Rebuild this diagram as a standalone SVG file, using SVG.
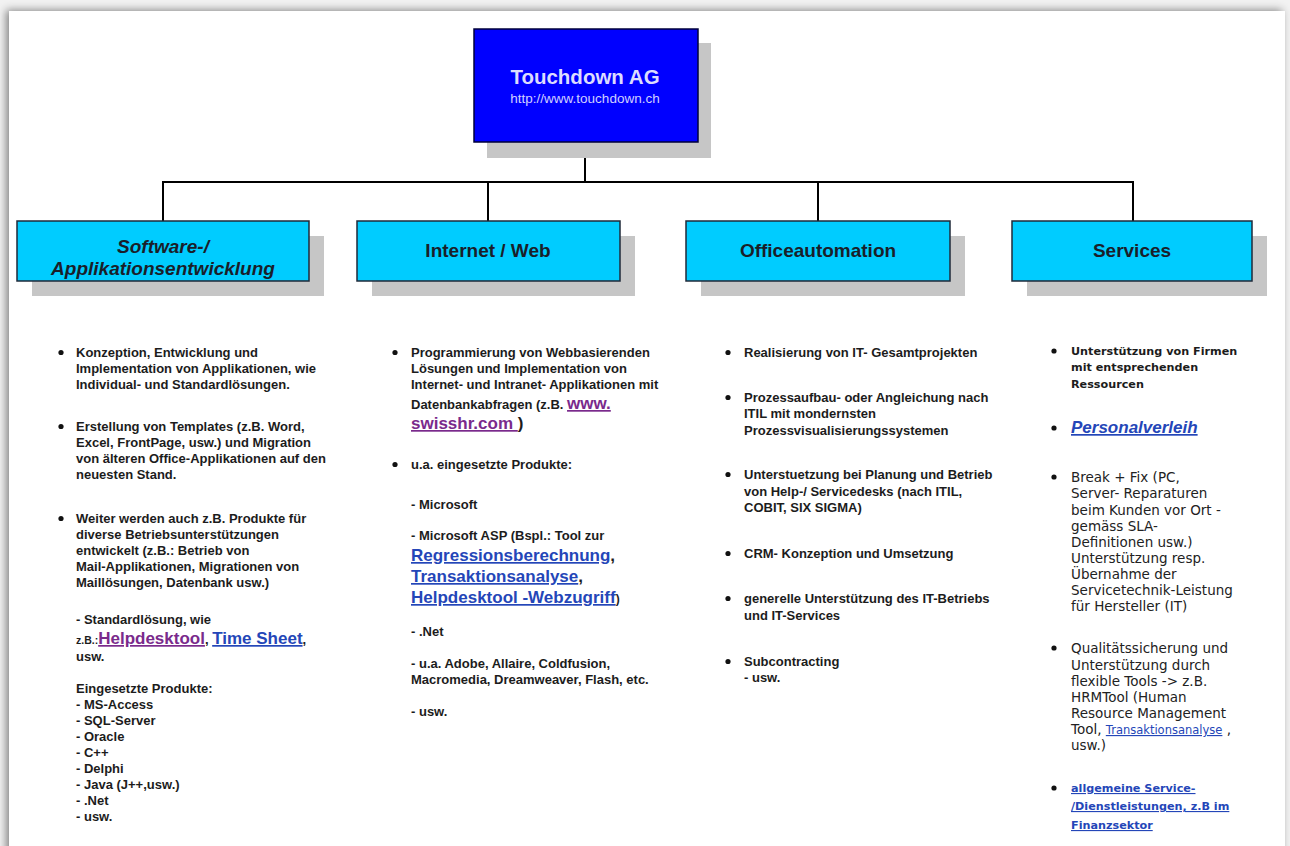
<svg xmlns="http://www.w3.org/2000/svg" width="1290" height="846" viewBox="0 0 1290 846">
<defs>
<filter id="pg" x="-5%" y="-5%" width="110%" height="110%">
<feDropShadow dx="-3" dy="-1" stdDeviation="4" flood-color="#000" flood-opacity="0.45"/>
</filter>
<style>
.b{font-family:"Liberation Sans",Arial,sans-serif;font-size:13px;font-weight:bold;fill:#1c1c1c}
.v{font-family:"DejaVu Sans",Verdana,sans-serif;font-size:13.5px;fill:#222}
.vb{font-family:"DejaVu Sans",Verdana,sans-serif;font-size:11.2px;font-weight:bold;fill:#1c1c1c}
.h{font-family:"Liberation Sans",Arial,sans-serif;font-size:19px;font-weight:bold;fill:#1a1e2a;text-anchor:middle}
.lk{font-family:"Liberation Sans",Arial,sans-serif;font-size:17px;font-weight:bold;text-decoration:underline}
.pu{fill:#7a2a8c}
.bl{fill:#2446b8}
.sh{fill:#c6c6c6}
.hb{fill:#00ccff;stroke:#1f2a3a;stroke-width:1.5}
.dot{fill:#111}
.con{stroke:#000;stroke-width:2;fill:none}
</style>
</defs>
<rect width="1290" height="846" fill="#f2f2f2"/>
<rect x="9" y="11" width="1276" height="850" fill="#fff" filter="url(#pg)"/>

<g id="connectors">
<line class="con" x1="585" y1="142" x2="585" y2="182"/>
<line class="con" x1="162" y1="182" x2="1134" y2="182"/>
<line class="con" x1="163" y1="182" x2="163" y2="221"/>
<line class="con" x1="488" y1="182" x2="488" y2="221"/>
<line class="con" x1="818" y1="182" x2="818" y2="221"/>
<line class="con" x1="1133" y1="182" x2="1133" y2="221"/>
</g>

<g id="touchdown">
<rect class="sh" x="487" y="43" width="224" height="115"/>
<rect x="474" y="29" width="224" height="113" fill="#0000ff" stroke="#00003a" stroke-width="1.5"/>
<text x="585" y="84" text-anchor="middle" font-family="Liberation Sans,Arial,sans-serif" font-size="20.5" font-weight="bold" fill="#dcdcff">Touchdown AG</text>
<text x="585" y="103" text-anchor="middle" font-family="Liberation Sans,Arial,sans-serif" font-size="13.5" fill="#d0d0ff">http://www.touchdown.ch</text>
</g>

<g id="software">
<rect class="sh" x="32" y="236" width="292" height="60"/>
<rect class="hb" x="17" y="221" width="292" height="60"/>
<text class="h" x="163" y="253" font-style="italic">Software-/</text>
<text class="h" x="163" y="275" font-style="italic">Applikationsentwicklung</text>
</g>
<g id="internet">
<rect class="sh" x="372" y="236" width="263" height="60"/>
<rect class="hb" x="357" y="221" width="263" height="60"/>
<text class="h" x="488" y="257">Internet / Web</text>
</g>
<g id="office">
<rect class="sh" x="701" y="236" width="264" height="60"/>
<rect class="hb" x="686" y="221" width="264" height="60"/>
<text class="h" x="818" y="257">Officeautomation</text>
</g>
<g id="services">
<rect class="sh" x="1027" y="236" width="240" height="60"/>
<rect class="hb" x="1012" y="221" width="240" height="60"/>
<text class="h" x="1132" y="257">Services</text>
</g>

<g id="software-details">
<circle class="dot" cx="61" cy="352.5" r="2.6"/>
<circle class="dot" cx="61" cy="426.5" r="2.6"/>
<circle class="dot" cx="61" cy="518.5" r="2.6"/>
<text class="b" x="76" y="357">Konzeption, Entwicklung und</text>
<text class="b" x="76" y="373">Implementation von Applikationen, wie</text>
<text class="b" x="76" y="389">Individual- und Standardlösungen.</text>
<text class="b" x="76" y="431">Erstellung von Templates (z.B. Word,</text>
<text class="b" x="76" y="447">Excel, FrontPage, usw.) und Migration</text>
<text class="b" x="76" y="463">von älteren Office-Applikationen auf den</text>
<text class="b" x="76" y="479">neuesten Stand.</text>
<text class="b" x="76" y="523">Weiter werden auch z.B. Produkte für</text>
<text class="b" x="76" y="539">diverse Betriebsunterstützungen</text>
<text class="b" x="76" y="555">entwickelt (z.B.: Betrieb von</text>
<text class="b" x="76" y="571">Mail-Applikationen, Migrationen von</text>
<text class="b" x="76" y="587">Maillösungen, Datenbank usw.)</text>
<text class="b" x="76" y="624">- Standardlösung, wie</text>
<text class="b" x="76" y="644"><tspan font-size="10.5">z.B.:</tspan><tspan class="lk pu">Helpdesktool</tspan>, <tspan class="lk bl">Time Sheet</tspan>,</text>
<text class="b" x="76" y="661">usw.</text>
<text class="b" x="76" y="693">Eingesetzte Produkte:</text>
<text class="b" x="76" y="709">- MS-Access</text>
<text class="b" x="76" y="725">- SQL-Server</text>
<text class="b" x="76" y="741">- Oracle</text>
<text class="b" x="76" y="757">- C++</text>
<text class="b" x="76" y="773">- Delphi</text>
<text class="b" x="76" y="789">- Java (J++,usw.)</text>
<text class="b" x="76" y="805">- .Net</text>
<text class="b" x="76" y="821">- usw.</text>
</g>

<g id="internet-details">
<circle class="dot" cx="395" cy="352.5" r="2.6"/>
<circle class="dot" cx="395" cy="464.5" r="2.6"/>
<text class="b" x="411" y="357">Programmierung von Webbasierenden</text>
<text class="b" x="411" y="373">Lösungen und Implementation von</text>
<text class="b" x="411" y="389">Internet- und Intranet- Applikationen mit</text>
<text class="b" x="411" y="409">Datenbankabfragen (z.B. <tspan class="lk pu">www.</tspan></text>
<text class="b" x="411" y="429"><tspan class="lk pu">swisshr.com </tspan><tspan font-size="17">)</tspan></text>
<text class="b" x="411" y="469">u.a. eingesetzte Produkte:</text>
<text class="b" x="411" y="509">- Microsoft</text>
<text class="b" x="411" y="540">- Microsoft ASP (Bspl.: Tool zur</text>
<text class="b" x="411" y="561"><tspan class="lk bl">Regressionsberechnung</tspan><tspan font-size="17">,</tspan></text>
<text class="b" x="411" y="582"><tspan class="lk bl">Transaktionsanalyse</tspan><tspan font-size="17">,</tspan></text>
<text class="b" x="411" y="603"><tspan class="lk bl">Helpdesktool -Webzugriff</tspan><tspan font-size="12">)</tspan></text>
<text class="b" x="411" y="636">- .Net</text>
<text class="b" x="411" y="668">- u.a. Adobe, Allaire, Coldfusion,</text>
<text class="b" x="411" y="684">Macromedia, Dreamweaver, Flash, etc.</text>
<text class="b" x="411" y="716">- usw.</text>
</g>

<g id="office-details">
<circle class="dot" cx="728" cy="352.5" r="2.6"/>
<circle class="dot" cx="728" cy="397.5" r="2.6"/>
<circle class="dot" cx="728" cy="474.5" r="2.6"/>
<circle class="dot" cx="728" cy="553.5" r="2.6"/>
<circle class="dot" cx="728" cy="598.5" r="2.6"/>
<circle class="dot" cx="728" cy="661.5" r="2.6"/>
<text class="b" x="744" y="357">Realisierung von IT- Gesamtprojekten</text>
<text class="b" x="744" y="402">Prozessaufbau- oder Angleichung nach</text>
<text class="b" x="744" y="418">ITIL mit mondernsten</text>
<text class="b" x="744" y="435">Prozessvisualisierungssystemen</text>
<text class="b" x="744" y="479">Unterstuetzung bei Planung und Betrieb</text>
<text class="b" x="744" y="496">von Help-/ Servicedesks (nach ITIL,</text>
<text class="b" x="744" y="512">COBIT, SIX SIGMA)</text>
<text class="b" x="744" y="558">CRM- Konzeption und Umsetzung</text>
<text class="b" x="744" y="603">generelle Unterstützung des IT-Betriebs</text>
<text class="b" x="744" y="620">und IT-Services</text>
<text class="b" x="744" y="666">Subcontracting</text>
<text class="b" x="744" y="682">- usw.</text>
</g>

<g id="services-details">
<circle class="dot" cx="1054" cy="351" r="2.6"/>
<circle class="dot" cx="1054" cy="428" r="2.6"/>
<circle class="dot" cx="1054" cy="477" r="2.6"/>
<circle class="dot" cx="1054" cy="648" r="2.6"/>
<circle class="dot" cx="1054" cy="788" r="2.6"/>
<text class="vb" x="1071" y="355">Unterstützung von Firmen</text>
<text class="vb" x="1071" y="371">mit entsprechenden</text>
<text class="vb" x="1071" y="388">Ressourcen</text>
<text class="lk bl" x="1071" y="433" font-style="italic">Personalverleih</text>
<text class="v" x="1071" y="482">Break + Fix (PC,</text>
<text class="v" x="1071" y="498">Server- Reparaturen</text>
<text class="v" x="1071" y="515">beim Kunden vor Ort -</text>
<text class="v" x="1071" y="531">gemäss SLA-</text>
<text class="v" x="1071" y="547">Definitionen usw.)</text>
<text class="v" x="1071" y="563">Unterstützung resp.</text>
<text class="v" x="1071" y="579">Übernahme der</text>
<text class="v" x="1071" y="595">Servicetechnik-Leistung</text>
<text class="v" x="1071" y="611">für Hersteller (IT)</text>
<text class="v" x="1071" y="653">Qualitätssicherung und</text>
<text class="v" x="1071" y="670">Unterstützung durch</text>
<text class="v" x="1071" y="686">flexible Tools -&gt; z.B.</text>
<text class="v" x="1071" y="702">HRMTool (Human</text>
<text class="v" x="1071" y="718">Resource Management</text>
<text class="v" x="1071" y="734">Tool, <tspan font-size="11.5" class="bl" text-decoration="underline">Transaktionsanalyse</tspan> ,</text>
<text class="v" x="1071" y="750">usw.)</text>
<text class="vb bl" x="1071" y="792" text-decoration="underline">allgemeine Service-</text>
<text class="vb bl" x="1071" y="810" text-decoration="underline">/Dienstleistungen, z.B  im</text>
<text class="vb bl" x="1071" y="829" text-decoration="underline">Finanzsektor</text>
</g>
</svg>
